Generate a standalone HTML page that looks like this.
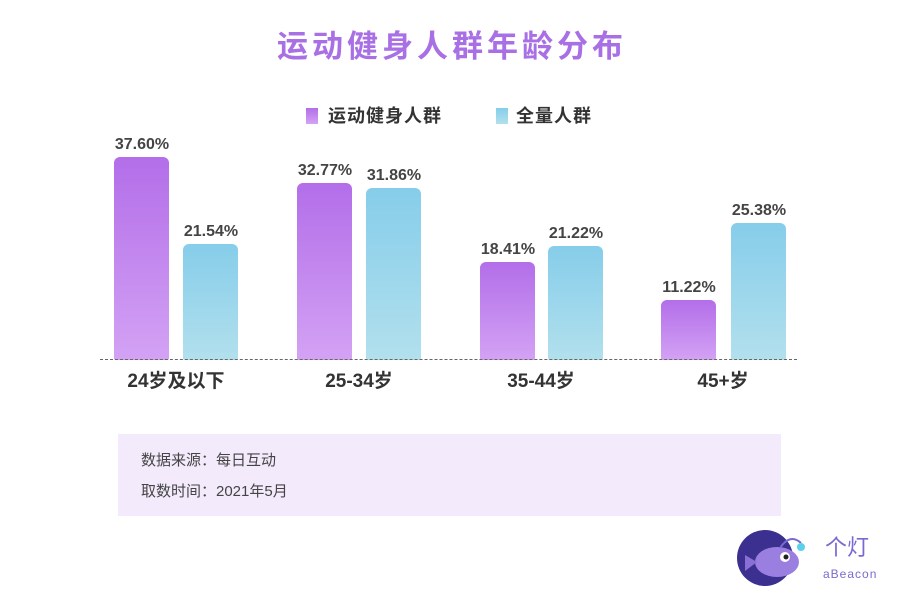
<!DOCTYPE html>
<html><head><meta charset="utf-8"><style>
body{margin:0;background:#fff;width:900px;height:601px;position:relative;overflow:hidden;font-family:"Liberation Sans","Noto Sans CJK SC",sans-serif}
.a{position:absolute;white-space:nowrap}
.t{left:0;width:900px;text-align:center;top:27px;font-size:31px;font-weight:bold;color:#a970e6;letter-spacing:4px;line-height:40px;padding-left:4px;box-sizing:border-box}
.lg{top:104px;font-size:18px;color:#333;font-weight:bold;letter-spacing:1px;line-height:24px}
.sq{width:12px;height:16px;top:108px}
.bp{position:absolute;width:55px;border-radius:6px 6px 2px 2px;background:linear-gradient(#b36ee9,#d3a2f4)}
.bb{position:absolute;width:55px;border-radius:6px 6px 2px 2px;background:linear-gradient(#86cdea,#b2e0ed)}
.v{position:absolute;width:90px;text-align:center;font-size:16px;font-weight:bold;color:#444;line-height:20px}
.x{position:absolute;width:160px;text-align:center;font-size:19px;color:#333;top:370px;line-height:24px;font-weight:bold}
</style></head><body>
<div class="a t">运动健身人群年龄分布</div>
<div class="a sq" style="left:306px;background:linear-gradient(#b36ee9,#d3a2f4)"></div>
<div class="a lg" style="left:328px">运动健身人群</div>
<div class="a sq" style="left:496px;background:linear-gradient(#86cdea,#b2e0ed)"></div>
<div class="a lg" style="left:516px">全量人群</div>

<div class="bp" style="left:114px;top:157px;height:203px"></div>
<div class="bb" style="left:183px;top:244px;height:116px"></div>
<div class="bp" style="left:297px;top:183px;height:177px"></div>
<div class="bb" style="left:366px;top:188px;height:172px"></div>
<div class="bp" style="left:480px;top:262px;height:98px"></div>
<div class="bb" style="left:548px;top:246px;height:114px"></div>
<div class="bp" style="left:661px;top:300px;height:60px"></div>
<div class="bb" style="left:731px;top:223px;height:137px"></div>

<div class="v" style="left:97px;top:135px">37.60%</div>
<div class="v" style="left:166px;top:222px">21.54%</div>
<div class="v" style="left:280px;top:161px">32.77%</div>
<div class="v" style="left:349px;top:166px">31.86%</div>
<div class="v" style="left:463px;top:240px">18.41%</div>
<div class="v" style="left:531px;top:224px">21.22%</div>
<div class="v" style="left:644px;top:278px">11.22%</div>
<div class="v" style="left:714px;top:201px">25.38%</div>

<div class="a" style="left:100px;top:359px;width:697px;border-top:1.5px dashed #666"></div>

<div class="x" style="left:96px">24岁及以下</div>
<div class="x" style="left:279px">25-34岁</div>
<div class="x" style="left:461px">35-44岁</div>
<div class="x" style="left:643px">45+岁</div>

<div class="a" style="left:118px;top:434px;width:663px;height:82px;background:#f3eafb"></div>
<div class="a" style="left:141px;top:451px;font-size:15px;color:#444;line-height:20px">数据来源：每日互动</div>
<div class="a" style="left:141px;top:482px;font-size:15px;color:#444;line-height:20px">取数时间：2021年5月</div>

<svg class="a" style="left:735px;top:525px" width="150" height="65" viewBox="0 0 150 65">
<circle cx="30" cy="33" r="28" fill="#3b2f8f"/>
<ellipse cx="42" cy="37" rx="22" ry="15" fill="#9a7fe0"/>
<path d="M10 30 L22 37 L10 46 Z" fill="#8a6fd6"/>
<circle cx="50" cy="32" r="5" fill="#fff"/><circle cx="51" cy="32" r="2.5" fill="#222"/>
<path d="M45 23 Q55 8 66 18" stroke="#7a6ad0" stroke-width="2" fill="none"/>
<circle cx="66" cy="22" r="4" fill="#5ad0ea"/>
<text x="90" y="30" font-size="22" fill="#7a6ad0" font-family="Noto Sans CJK SC,sans-serif">个灯</text>
<text x="88" y="53" font-size="12" fill="#7a6ad0" font-family="Liberation Sans,sans-serif" letter-spacing="1">aBeacon</text>
</svg>
</body></html>
